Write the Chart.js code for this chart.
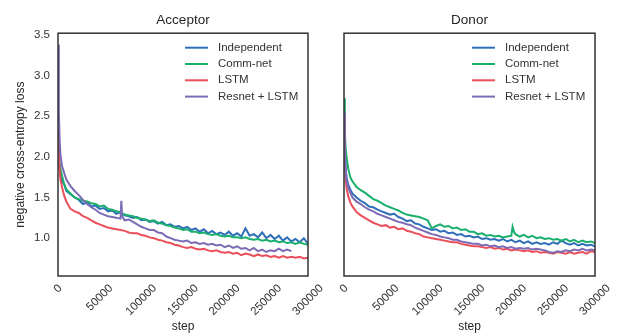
<!DOCTYPE html>
<html><head><meta charset="utf-8">
<script src="https://cdn.jsdelivr.net/npm/chart.js@4"></script>
<style>
body{margin:0;background:#fff;width:617px;height:335px;overflow:hidden;position:relative}
#acc{position:absolute;left:0;top:0}
#don{position:absolute;left:310px;top:0}
</style>
</head><body>
<canvas id="acc" width="332" height="335"></canvas>
<canvas id="don" width="307" height="335"></canvas>
<script>
const steps = [0,1000,2000,3000,5000,7500,10000,15000,20000,25000,30000,35000,40000,45000,50000,55000,60000,65000,70000,75000,80000,85000,90000,95000,100000,105000,110000,115000,120000,125000,130000,135000,140000,145000,150000,155000,160000,165000,170000,175000,180000,185000,190000,195000,200000,205000,210000,215000,220000,225000,230000,235000,240000,245000,250000,255000,260000,265000,270000,275000,280000,285000,290000,295000,300000];

const seriesNames = ['Independent','Comm-net','LSTM','Resnet + LSTM'];
const seriesColors = ['#2f6fba','#1aaf6c','#ea4f5a','#7c6bb5'];

const xTicks = [0,50000,100000,150000,200000,250000,300000];
const yTicks = [1.0,1.5,2.0,2.5,3.0,3.5];

// Acceptor
const accIndependent = [2.10,1.95,1.85,1.76,1.70,1.66,1.58,1.54,1.50,1.47,1.42,1.44,1.39,1.40,1.36,1.37,1.33,1.34,1.30,1.32,1.28,1.27,1.25,1.26,1.22,1.23,1.20,1.21,1.18,1.20,1.16,1.17,1.14,1.15,1.12,1.14,1.10,1.12,1.08,1.11,1.06,1.09,1.05,1.07,1.04,1.08,1.03,1.06,1.02,1.12,1.03,1.05,1.01,1.07,1.00,1.04,0.99,1.03,0.97,1.01,0.96,0.99,0.95,1.00,0.93];
const accCommNet = [2.22,2.02,1.92,1.85,1.76,1.66,1.60,1.55,1.50,1.48,1.46,1.45,1.43,1.42,1.39,1.40,1.36,1.35,1.33,1.32,1.29,1.28,1.27,1.25,1.24,1.23,1.21,1.22,1.19,1.18,1.16,1.15,1.13,1.12,1.10,1.11,1.08,1.08,1.06,1.07,1.05,1.04,1.05,1.03,1.02,1.03,1.01,1.01,1.00,1.01,0.99,0.98,0.99,0.97,0.98,0.96,0.97,0.95,0.96,0.94,0.95,0.93,0.95,0.93,0.92];
const accLSTM = [2.35,2.05,1.85,1.72,1.62,1.52,1.45,1.36,1.33,1.31,1.27,1.25,1.22,1.19,1.17,1.15,1.13,1.12,1.11,1.10,1.09,1.07,1.06,1.06,1.04,1.03,1.01,1.00,0.98,0.97,0.95,0.94,0.92,0.91,0.89,0.88,0.89,0.87,0.86,0.87,0.85,0.84,0.85,0.83,0.82,0.83,0.81,0.82,0.79,0.81,0.80,0.78,0.80,0.78,0.79,0.77,0.78,0.76,0.78,0.76,0.77,0.76,0.77,0.75,0.76];
const accResnet = [3.38,2.55,2.20,2.02,1.88,1.80,1.72,1.64,1.58,1.53,1.47,1.42,1.38,1.35,1.31,1.29,1.27,1.26,1.25,1.24,1.22,1.23,1.20,1.17,1.14,1.12,1.10,1.10,1.07,1.06,1.02,1.00,0.98,0.97,0.96,0.97,0.94,0.95,0.93,0.94,0.92,0.93,0.91,0.92,0.89,0.91,0.88,0.90,0.87,0.88,0.85,0.88,0.84,0.86,0.83,0.85,0.84,0.87,0.84,0.86,0.84];
const accResnetSpike = [[76000,1.46],[77000,1.27]];

// Donor
const donIndependent = [2.45,2.05,1.85,1.75,1.66,1.60,1.55,1.50,1.46,1.43,1.39,1.38,1.35,1.33,1.31,1.29,1.30,1.26,1.24,1.21,1.22,1.18,1.17,1.14,1.12,1.10,1.11,1.08,1.09,1.06,1.07,1.04,1.05,1.02,1.03,1.01,1.02,0.99,1.00,0.98,0.99,0.97,0.99,0.96,0.98,0.95,0.97,0.94,0.96,0.93,0.95,0.93,0.94,0.92,0.95,0.93,0.97,0.94,0.92,0.94,0.91,0.93,0.91,0.92,0.90];
const donCommNet = [2.72,2.30,2.10,2.00,1.86,1.75,1.70,1.63,1.59,1.56,1.52,1.48,1.46,1.43,1.40,1.38,1.36,1.34,1.31,1.29,1.28,1.27,1.26,1.24,1.22,1.12,1.15,1.17,1.14,1.15,1.12,1.13,1.10,1.11,1.08,1.08,1.05,1.06,1.03,1.04,1.02,1.03,1.01,1.02,1.03,1.05,1.02,1.04,1.01,1.03,1.00,1.01,0.99,1.00,0.98,0.99,0.97,0.99,0.96,0.98,0.95,0.97,0.95,0.96,0.94];
const donCommNetSpike = [[201500,1.14],[203500,1.07]];
const donLSTM = [2.50,1.95,1.72,1.62,1.52,1.44,1.39,1.32,1.28,1.25,1.22,1.19,1.17,1.15,1.16,1.13,1.14,1.11,1.12,1.09,1.08,1.06,1.05,1.02,1.01,1.00,0.99,0.98,0.97,0.96,0.95,0.95,0.93,0.92,0.91,0.90,0.90,0.89,0.88,0.89,0.87,0.88,0.86,0.87,0.85,0.86,0.85,0.84,0.85,0.83,0.84,0.82,0.83,0.82,0.81,0.83,0.82,0.81,0.83,0.81,0.82,0.83,0.81,0.84,0.83];
const donResnet = [2.55,2.05,1.85,1.72,1.62,1.56,1.50,1.45,1.42,1.38,1.35,1.33,1.30,1.28,1.26,1.24,1.22,1.20,1.19,1.17,1.16,1.13,1.11,1.09,1.07,1.05,1.04,1.02,1.01,1.00,0.98,0.98,0.96,0.95,0.94,0.93,0.93,0.91,0.92,0.90,0.91,0.89,0.90,0.88,0.89,0.87,0.88,0.87,0.88,0.86,0.87,0.86,0.85,0.83,0.82,0.84,0.83,0.85,0.84,0.86,0.85,0.87,0.85,0.86,0.85];

const FONT = '"Liberation Sans", Arial, Helvetica, sans-serif';
const TXT = '#333333';

function toPoints(vals, extra) {
  const pts = vals.map((v, i) => ({x: steps[i], y: v}));
  (extra || []).forEach(e => pts.push({x: e[0], y: e[1]}));
  pts.sort((a, b) => a.x - b.x);
  return pts;
}

const decor = {
  id: 'decor',
  afterDraw(chart) {
    const {ctx, chartArea: a} = chart;
    const x = chart.scales.x;
    ctx.save();
    ctx.strokeStyle = '#333'; ctx.lineWidth = 1.5;
    ctx.strokeRect(a.left, a.top, a.right - a.left, a.bottom - a.top);
    ctx.fillStyle = TXT;
    ctx.font = '11.5px ' + FONT;
    ctx.textAlign = 'center'; ctx.textBaseline = 'middle';
    x.ticks.forEach(t => {
      const px = x.getPixelForValue(t.value);
      const s = String(t.value);
      const w = ctx.measureText(s).width;
      const cy = a.bottom + 7.5 + (w + 8.3) * Math.SQRT1_2 / 2;
      ctx.save(); ctx.translate(px, cy); ctx.rotate(-Math.PI / 4);
      ctx.fillText(s, 0, 0); ctx.restore();
    });
    seriesNames.forEach((n, i) => {
      const y = a.top + 14.5 + i * 16.3;
      ctx.strokeStyle = seriesColors[i]; ctx.lineWidth = 2;
      ctx.beginPath(); ctx.moveTo(a.right - 123, y); ctx.lineTo(a.right - 100, y); ctx.stroke();
      ctx.textAlign = 'left'; ctx.fillStyle = TXT;
      ctx.fillText(n, a.right - 90, y);
    });
    ctx.restore();
  }
};

function makeChart(id, title, series, extras, showY, yWidth, pad) {
  const datasets = series.map((vals, i) => ({
    label: seriesNames[i],
    data: toPoints(vals, extras[i]),
    borderColor: seriesColors[i],
    borderWidth: 2,
    pointRadius: 0,
    tension: 0,
    fill: false,
    order: 3 - i
  }));
  return new Chart(document.getElementById(id), {
    type: 'line',
    data: {datasets},
    plugins: [decor],
    options: {
      responsive: false, animation: false, events: [],
      layout: {padding: pad},
      plugins: {
        legend: {display: false}, tooltip: {enabled: false},
        title: {display: true, text: title, fullSize: false, color: '#262626',
          font: {family: FONT, size: 13.5, weight: 'normal'}, padding: {top: 12, bottom: 5}}
      },
      scales: {
        x: {
          type: 'linear', min: 0, max: 300000,
          afterBuildTicks: s => { s.ticks = xTicks.map(v => ({value: v})); },
          afterFit: s => { s.height = 59; },
          ticks: {display: false},
          grid: {display: false, drawTicks: false},
          border: {display: false},
          title: {display: true, text: 'step', color: '#262626',
            font: {family: FONT, size: 12}, padding: {top: 0, bottom: 1}}
        },
        y: {
          display: true,
          min: 0.535, max: 3.52,
          afterBuildTicks: s => { s.ticks = yTicks.map(v => ({value: v})); },
          afterFit: s => { s.width = yWidth; },
          ticks: {display: showY, color: TXT, font: {family: FONT, size: 11.5}, padding: 8,
            callback: v => Number(v).toFixed(1)},
          grid: {display: false, drawTicks: false},
          border: {display: false},
          title: {display: showY, text: 'negative cross-entropy loss', color: '#262626',
            font: {family: FONT, size: 12}, padding: {top: 13, bottom: 0}}
        }
      }
    }
  });
}

makeChart('acc', 'Acceptor',
  [accIndependent, accCommNet, accLSTM, accResnet],
  [null, null, null, accResnetSpike], true, 58,
  {left: 0, right: 24, top: 0, bottom: 0});
makeChart('don', 'Donor',
  [donIndependent, donCommNet, donLSTM, donResnet],
  [null, donCommNetSpike, null, null], false, 34,
  {left: 0, right: 22, top: 0, bottom: 0});
</script>
</body></html>
